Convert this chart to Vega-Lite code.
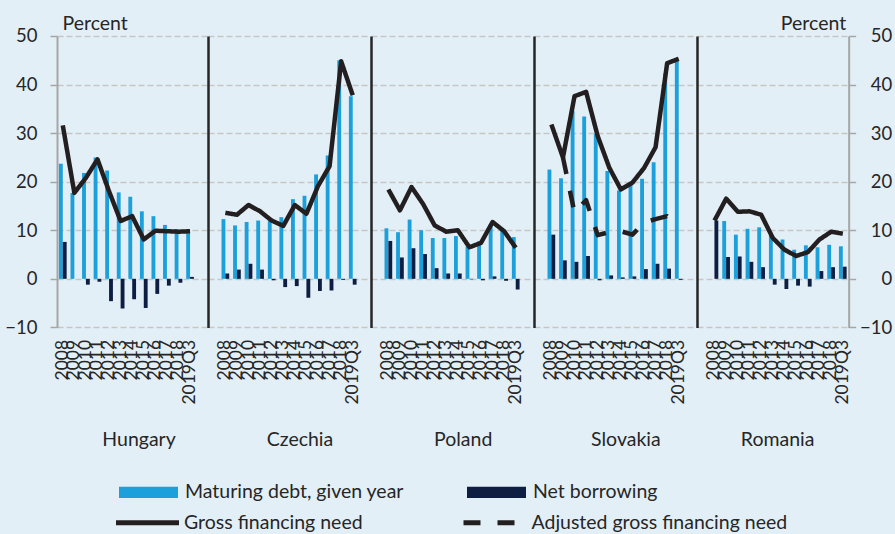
{
  "$schema": "https://vega.github.io/schema/vega-lite/v6.json",
  "padding": {"left": 4, "top": 13, "right": 3, "bottom": 6},
  "spacing": 0,
  "data": {"values": [
    {"country":"Hungary","period":"2008","Maturing debt, given year":23.7,"Net borrowing":7.6,"Gross financing need":31.6},
    {"country":"Hungary","period":"2009","Maturing debt, given year":17.7,"Net borrowing":0.0,"Gross financing need":17.7},
    {"country":"Hungary","period":"2010","Maturing debt, given year":21.8,"Net borrowing":-1.2,"Gross financing need":20.8},
    {"country":"Hungary","period":"2011","Maturing debt, given year":25.0,"Net borrowing":-0.6,"Gross financing need":24.6},
    {"country":"Hungary","period":"2012","Maturing debt, given year":22.3,"Net borrowing":-4.6,"Gross financing need":18.0},
    {"country":"Hungary","period":"2013","Maturing debt, given year":17.8,"Net borrowing":-6.1,"Gross financing need":11.9},
    {"country":"Hungary","period":"2014","Maturing debt, given year":16.9,"Net borrowing":-4.2,"Gross financing need":12.9},
    {"country":"Hungary","period":"2015","Maturing debt, given year":13.9,"Net borrowing":-6.0,"Gross financing need":8.1},
    {"country":"Hungary","period":"2016","Maturing debt, given year":12.9,"Net borrowing":-3.1,"Gross financing need":9.9},
    {"country":"Hungary","period":"2017","Maturing debt, given year":11.1,"Net borrowing":-1.4,"Gross financing need":9.8},
    {"country":"Hungary","period":"2018","Maturing debt, given year":10.2,"Net borrowing":-0.8,"Gross financing need":9.7},
    {"country":"Hungary","period":"2019Q3","Maturing debt, given year":9.7,"Net borrowing":0.4,"Gross financing need":9.8},
    {"country":"Czechia","period":"2008","Maturing debt, given year":12.3,"Net borrowing":1.1,"Gross financing need":13.6},
    {"country":"Czechia","period":"2009","Maturing debt, given year":11.0,"Net borrowing":1.9,"Gross financing need":13.2},
    {"country":"Czechia","period":"2010","Maturing debt, given year":11.7,"Net borrowing":3.1,"Gross financing need":15.2},
    {"country":"Czechia","period":"2011","Maturing debt, given year":12.0,"Net borrowing":1.9,"Gross financing need":13.9},
    {"country":"Czechia","period":"2012","Maturing debt, given year":11.9,"Net borrowing":-0.3,"Gross financing need":12.0},
    {"country":"Czechia","period":"2013","Maturing debt, given year":12.7,"Net borrowing":-1.7,"Gross financing need":10.9},
    {"country":"Czechia","period":"2014","Maturing debt, given year":16.4,"Net borrowing":-1.5,"Gross financing need":15.2},
    {"country":"Czechia","period":"2015","Maturing debt, given year":17.1,"Net borrowing":-3.9,"Gross financing need":13.4},
    {"country":"Czechia","period":"2016","Maturing debt, given year":21.5,"Net borrowing":-2.5,"Gross financing need":19.1},
    {"country":"Czechia","period":"2017","Maturing debt, given year":25.4,"Net borrowing":-2.4,"Gross financing need":23.2},
    {"country":"Czechia","period":"2018","Maturing debt, given year":45.0,"Net borrowing":-0.2,"Gross financing need":44.8},
    {"country":"Czechia","period":"2019Q3","Maturing debt, given year":37.6,"Net borrowing":-1.2,"Gross financing need":37.8},
    {"country":"Poland","period":"2008","Maturing debt, given year":10.4,"Net borrowing":7.8,"Gross financing need":18.4},
    {"country":"Poland","period":"2009","Maturing debt, given year":9.6,"Net borrowing":4.4,"Gross financing need":14.1},
    {"country":"Poland","period":"2010","Maturing debt, given year":12.2,"Net borrowing":6.3,"Gross financing need":18.9},
    {"country":"Poland","period":"2011","Maturing debt, given year":10.0,"Net borrowing":5.1,"Gross financing need":15.4},
    {"country":"Poland","period":"2012","Maturing debt, given year":8.4,"Net borrowing":2.2,"Gross financing need":11.0},
    {"country":"Poland","period":"2013","Maturing debt, given year":8.4,"Net borrowing":1.1,"Gross financing need":9.7},
    {"country":"Poland","period":"2014","Maturing debt, given year":8.8,"Net borrowing":1.1,"Gross financing need":10.0},
    {"country":"Poland","period":"2015","Maturing debt, given year":6.6,"Net borrowing":-0.1,"Gross financing need":6.5},
    {"country":"Poland","period":"2016","Maturing debt, given year":7.7,"Net borrowing":-0.3,"Gross financing need":7.4},
    {"country":"Poland","period":"2017","Maturing debt, given year":11.2,"Net borrowing":0.5,"Gross financing need":11.7},
    {"country":"Poland","period":"2018","Maturing debt, given year":10.2,"Net borrowing":-0.4,"Gross financing need":9.8},
    {"country":"Poland","period":"2019Q3","Maturing debt, given year":8.6,"Net borrowing":-2.2,"Gross financing need":6.4},
    {"country":"Slovakia","period":"2008","Maturing debt, given year":22.5,"Net borrowing":9.1,"Gross financing need":31.8},
    {"country":"Slovakia","period":"2009","Maturing debt, given year":20.7,"Net borrowing":3.8,"Gross financing need":25.0,"Adjusted gross financing need":25.0},
    {"country":"Slovakia","period":"2010","Maturing debt, given year":34.5,"Net borrowing":3.5,"Gross financing need":37.6,"Adjusted gross financing need":13.6},
    {"country":"Slovakia","period":"2011","Maturing debt, given year":33.4,"Net borrowing":4.7,"Gross financing need":38.5,"Adjusted gross financing need":16.2},
    {"country":"Slovakia","period":"2012","Maturing debt, given year":29.8,"Net borrowing":-0.3,"Gross financing need":29.4,"Adjusted gross financing need":9.0},
    {"country":"Slovakia","period":"2013","Maturing debt, given year":22.2,"Net borrowing":0.7,"Gross financing need":22.9,"Adjusted gross financing need":9.6},
    {"country":"Slovakia","period":"2014","Maturing debt, given year":18.2,"Net borrowing":0.3,"Gross financing need":18.4,"Adjusted gross financing need":9.8},
    {"country":"Slovakia","period":"2015","Maturing debt, given year":19.3,"Net borrowing":0.5,"Gross financing need":19.8,"Adjusted gross financing need":9.1},
    {"country":"Slovakia","period":"2016","Maturing debt, given year":20.6,"Net borrowing":2.0,"Gross financing need":22.8,"Adjusted gross financing need":11.6},
    {"country":"Slovakia","period":"2017","Maturing debt, given year":24.0,"Net borrowing":3.1,"Gross financing need":27.1,"Adjusted gross financing need":12.3},
    {"country":"Slovakia","period":"2018","Maturing debt, given year":42.3,"Net borrowing":2.1,"Gross financing need":44.4,"Adjusted gross financing need":12.9},
    {"country":"Slovakia","period":"2019Q3","Maturing debt, given year":44.8,"Net borrowing":-0.2,"Gross financing need":45.3,"Adjusted gross financing need":10.3},
    {"country":"Romania","period":"2008","Net borrowing":12.0,"Gross financing need":12.0},
    {"country":"Romania","period":"2009","Maturing debt, given year":11.9,"Net borrowing":4.5,"Gross financing need":16.5},
    {"country":"Romania","period":"2010","Maturing debt, given year":9.1,"Net borrowing":4.6,"Gross financing need":13.8},
    {"country":"Romania","period":"2011","Maturing debt, given year":10.3,"Net borrowing":3.5,"Gross financing need":13.9},
    {"country":"Romania","period":"2012","Maturing debt, given year":10.6,"Net borrowing":2.4,"Gross financing need":13.2},
    {"country":"Romania","period":"2013","Maturing debt, given year":9.4,"Net borrowing":-1.2,"Gross financing need":8.4},
    {"country":"Romania","period":"2014","Maturing debt, given year":8.1,"Net borrowing":-2.1,"Gross financing need":6.0},
    {"country":"Romania","period":"2015","Maturing debt, given year":6.0,"Net borrowing":-1.4,"Gross financing need":4.7},
    {"country":"Romania","period":"2016","Maturing debt, given year":6.9,"Net borrowing":-1.6,"Gross financing need":5.5},
    {"country":"Romania","period":"2017","Maturing debt, given year":6.5,"Net borrowing":1.6,"Gross financing need":8.1},
    {"country":"Romania","period":"2018","Maturing debt, given year":7.0,"Net borrowing":2.4,"Gross financing need":9.7},
    {"country":"Romania","period":"2019Q3","Maturing debt, given year":6.7,"Net borrowing":2.5,"Gross financing need":9.3}
  ]},
  "hconcat": [
    {
      "width": 150.4, "height": 291.4,
      "transform": [{"filter": {"field": "country", "equal": "Hungary"}}],
      "layer": [
        {
          "transform": [{"fold": ["Maturing debt, given year", "Net borrowing"], "as": ["series", "value"]}],
          "mark": {"type": "bar"},
          "encoding": {
            "x": {"field": "period", "type": "ordinal", "scale": {"domain": ["2008","2009","2010","2011","2012","2013","2014","2015","2016","2017","2018","2019Q3"], "paddingInner": 0, "paddingOuter": 0.5, "align": 0},
                  "axis": {"title": "Hungary", "titleX": 81.5, "titleY": 118, "titleBaseline": "alphabetic", "titleAlign": "center", "titleFontSize": 19.5, "labelAngle": -90, "labelAlign": "right", "labelBaseline": "middle", "labelPadding": 12, "labelOverlap": false, "labelFontSize": 17.5, "domain": false, "ticks": false, "grid": false}},
            "xOffset": {"field": "series", "type": "nominal", "scale": {"domain": ["Maturing debt, given year", "Net borrowing"], "paddingInner": 0, "paddingOuter": 0.5}},
            "y": {"field": "value", "type": "quantitative", "stack": null, "scale": {"domain": [-10, 50], "nice": false, "zero": false},
                  "axis": {"orient": "left", "values": [-10,0,10,20,30,40,50], "domainColor": "#a6a6a6", "domainWidth": 2, "tickColor": "#a6a6a6", "tickSize": 7, "tickWidth": 1.5, "labelPadding": 13, "labelFontSize": 18.5, "labelFlush": false, "grid": true, "title": "Percent", "titleAngle": 0, "titleAlign": "left", "titleBaseline": "alphabetic", "titleX": 5, "titleY": -6.5, "titleFontSize": 19.5}},
            "y2": {"datum": 0},
            "color": {"field": "series", "type": "nominal", "scale": {"domain": ["Maturing debt, given year", "Net borrowing"], "range": ["#1ba0db", "#0d1e42"]},
                      "legend": {"orient": "none", "legendX": 62, "legendY": 426.8, "direction": "horizontal", "columns": 2, "columnPadding": 62, "title": null, "symbolType": "M-1,-0.19H1V0.19H-1Z", "symbolSize": 3481, "symbolStrokeWidth": 0, "labelOffset": 7, "labelLimit": 400, "labelFontSize": 19.5, "padding": 0}}
          }
        },
        {
          "transform": [{"fold": ["Gross financing need", "Adjusted gross financing need"], "as": ["series", "value"]}],
          "mark": {"type": "line", "strokeWidth": 4.5, "color": "#231f20", "strokeJoin": "round"},
          "encoding": {
            "x": {"field": "period", "type": "ordinal"},
            "y": {"field": "value", "type": "quantitative"},
            "strokeDash": {"field": "series", "type": "nominal", "scale": {"domain": ["Gross financing need", "Adjusted gross financing need"], "range": [[1, 0], [17, 17]]},
                           "legend": {"orient": "none", "legendX": 56.5, "legendY": 452.8, "direction": "horizontal", "columns": 2, "columnPadding": 89.5, "title": null, "symbolType": "stroke", "symbolSize": 3969, "symbolStrokeWidth": 5, "symbolStrokeColor": "#231f20", "labelOffset": 2.5, "labelLimit": 400, "labelFontSize": 19.5, "padding": 0}}
          }
        }
      ]
    },
    {
      "width": 162.1, "height": 291.4,
      "transform": [{"filter": {"field": "country", "equal": "Czechia"}}],
      "layer": [
        {
          "transform": [{"fold": ["Maturing debt, given year", "Net borrowing"], "as": ["series", "value"]}],
          "mark": {"type": "bar"},
          "encoding": {
            "x": {"field": "period", "type": "ordinal", "scale": {"domain": ["2008","2009","2010","2011","2012","2013","2014","2015","2016","2017","2018","2019Q3"], "paddingInner": 0, "paddingOuter": 1, "align": 0.5},
                  "axis": {"title": "Czechia", "titleX": 91.5, "titleY": 118, "titleBaseline": "alphabetic", "titleAlign": "center", "titleFontSize": 19.5, "labelAngle": -90, "labelAlign": "right", "labelBaseline": "middle", "labelPadding": 12, "labelOverlap": false, "labelFontSize": 17.5, "domain": false, "ticks": false, "grid": false}},
            "xOffset": {"field": "series", "type": "nominal", "scale": {"domain": ["Maturing debt, given year", "Net borrowing"], "paddingInner": 0, "paddingOuter": 0.5}},
            "y": {"field": "value", "type": "quantitative", "stack": null, "scale": {"domain": [-10, 50], "nice": false, "zero": false},
                  "axis": {"orient": "left", "values": [-10,0,10,20,30,40,50], "domainColor": "#262626", "domainWidth": 2.5, "ticks": false, "labels": false, "grid": true, "title": null}},
            "y2": {"datum": 0},
            "color": {"field": "series", "type": "nominal", "scale": {"domain": ["Maturing debt, given year", "Net borrowing"], "range": ["#1ba0db", "#0d1e42"]}}
          }
        },
        {
          "transform": [{"fold": ["Gross financing need", "Adjusted gross financing need"], "as": ["series", "value"]}],
          "mark": {"type": "line", "strokeWidth": 4.5, "color": "#231f20", "strokeJoin": "round"},
          "encoding": {
            "x": {"field": "period", "type": "ordinal"},
            "y": {"field": "value", "type": "quantitative"},
            "strokeDash": {"field": "series", "type": "nominal", "scale": {"domain": ["Gross financing need", "Adjusted gross financing need"], "range": [[1, 0], [17, 17]]}}
          }
        }
      ]
    },
    {
      "width": 162.1, "height": 291.4,
      "transform": [{"filter": {"field": "country", "equal": "Poland"}}],
      "layer": [
        {
          "transform": [{"fold": ["Maturing debt, given year", "Net borrowing"], "as": ["series", "value"]}],
          "mark": {"type": "bar"},
          "encoding": {
            "x": {"field": "period", "type": "ordinal", "scale": {"domain": ["2008","2009","2010","2011","2012","2013","2014","2015","2016","2017","2018","2019Q3"], "paddingInner": 0, "paddingOuter": 1, "align": 0.5},
                  "axis": {"title": "Poland", "titleX": 91.7, "titleY": 118, "titleBaseline": "alphabetic", "titleAlign": "center", "titleFontSize": 19.5, "labelAngle": -90, "labelAlign": "right", "labelBaseline": "middle", "labelPadding": 12, "labelOverlap": false, "labelFontSize": 17.5, "domain": false, "ticks": false, "grid": false}},
            "xOffset": {"field": "series", "type": "nominal", "scale": {"domain": ["Maturing debt, given year", "Net borrowing"], "paddingInner": 0, "paddingOuter": 0.5}},
            "y": {"field": "value", "type": "quantitative", "stack": null, "scale": {"domain": [-10, 50], "nice": false, "zero": false},
                  "axis": {"orient": "left", "values": [-10,0,10,20,30,40,50], "domainColor": "#262626", "domainWidth": 2.5, "ticks": false, "labels": false, "grid": true, "title": null}},
            "y2": {"datum": 0},
            "color": {"field": "series", "type": "nominal", "scale": {"domain": ["Maturing debt, given year", "Net borrowing"], "range": ["#1ba0db", "#0d1e42"]}}
          }
        },
        {
          "transform": [{"fold": ["Gross financing need", "Adjusted gross financing need"], "as": ["series", "value"]}],
          "mark": {"type": "line", "strokeWidth": 4.5, "color": "#231f20", "strokeJoin": "round"},
          "encoding": {
            "x": {"field": "period", "type": "ordinal"},
            "y": {"field": "value", "type": "quantitative"},
            "strokeDash": {"field": "series", "type": "nominal", "scale": {"domain": ["Gross financing need", "Adjusted gross financing need"], "range": [[1, 0], [17, 17]]}}
          }
        }
      ]
    },
    {
      "width": 162.1, "height": 291.4,
      "transform": [{"filter": {"field": "country", "equal": "Slovakia"}}],
      "layer": [
        {
          "transform": [{"fold": ["Maturing debt, given year", "Net borrowing"], "as": ["series", "value"]}],
          "mark": {"type": "bar"},
          "encoding": {
            "x": {"field": "period", "type": "ordinal", "scale": {"domain": ["2008","2009","2010","2011","2012","2013","2014","2015","2016","2017","2018","2019Q3"], "paddingInner": 0, "paddingOuter": 1, "align": 0.5},
                  "axis": {"title": "Slovakia", "titleX": 91.4, "titleY": 118, "titleBaseline": "alphabetic", "titleAlign": "center", "titleFontSize": 19.5, "labelAngle": -90, "labelAlign": "right", "labelBaseline": "middle", "labelPadding": 12, "labelOverlap": false, "labelFontSize": 17.5, "domain": false, "ticks": false, "grid": false}},
            "xOffset": {"field": "series", "type": "nominal", "scale": {"domain": ["Maturing debt, given year", "Net borrowing"], "paddingInner": 0, "paddingOuter": 0.5}},
            "y": {"field": "value", "type": "quantitative", "stack": null, "scale": {"domain": [-10, 50], "nice": false, "zero": false},
                  "axis": {"orient": "left", "values": [-10,0,10,20,30,40,50], "domainColor": "#262626", "domainWidth": 2.5, "ticks": false, "labels": false, "grid": true, "title": null}},
            "y2": {"datum": 0},
            "color": {"field": "series", "type": "nominal", "scale": {"domain": ["Maturing debt, given year", "Net borrowing"], "range": ["#1ba0db", "#0d1e42"]}}
          }
        },
        {
          "transform": [{"fold": ["Gross financing need", "Adjusted gross financing need"], "as": ["series", "value"]}],
          "mark": {"type": "line", "strokeWidth": 4.5, "color": "#231f20", "strokeJoin": "round"},
          "encoding": {
            "x": {"field": "period", "type": "ordinal"},
            "y": {"field": "value", "type": "quantitative"},
            "strokeDash": {"field": "series", "type": "nominal", "scale": {"domain": ["Gross financing need", "Adjusted gross financing need"], "range": [[1, 0], [17, 17]]}}
          }
        }
      ]
    },
    {
      "width": 151.67, "height": 291.4,
      "transform": [{"filter": {"field": "country", "equal": "Romania"}}],
      "resolve": {"scale": {"y": "independent"}},
      "layer": [
        {
          "transform": [{"fold": ["Maturing debt, given year", "Net borrowing"], "as": ["series", "value"]}],
          "mark": {"type": "bar"},
          "encoding": {
            "x": {"field": "period", "type": "ordinal", "scale": {"domain": ["2008","2009","2010","2011","2012","2013","2014","2015","2016","2017","2018","2019Q3"], "paddingInner": 0, "paddingOuter": 0.5, "align": 1},
                  "axis": {"title": "Romania", "titleX": 80.1, "titleY": 118, "titleBaseline": "alphabetic", "titleAlign": "center", "titleFontSize": 19.5, "labelAngle": -90, "labelAlign": "right", "labelBaseline": "middle", "labelPadding": 12, "labelOverlap": false, "labelFontSize": 17.5, "domain": false, "ticks": false, "grid": false}},
            "xOffset": {"field": "series", "type": "nominal", "scale": {"domain": ["Maturing debt, given year", "Net borrowing"], "paddingInner": 0, "paddingOuter": 0.5}},
            "y": {"field": "value", "type": "quantitative", "stack": null, "scale": {"domain": [-10, 50], "nice": false, "zero": false},
                  "axis": {"orient": "left", "values": [-10,0,10,20,30,40,50], "domainColor": "#262626", "domainWidth": 2.5, "ticks": false, "labels": false, "grid": true, "title": null}},
            "y2": {"datum": 0},
            "color": {"field": "series", "type": "nominal", "scale": {"domain": ["Maturing debt, given year", "Net borrowing"], "range": ["#1ba0db", "#0d1e42"]}}
          }
        },
        {
          "transform": [{"fold": ["Gross financing need", "Adjusted gross financing need"], "as": ["series", "value"]}],
          "mark": {"type": "line", "strokeWidth": 4.5, "color": "#231f20", "strokeJoin": "round"},
          "encoding": {
            "x": {"field": "period", "type": "ordinal"},
            "y": {"field": "value", "type": "quantitative", "scale": {"domain": [-10, 50], "nice": false, "zero": false},
                  "axis": {"orient": "right", "values": [-10,0,10,20,30,40,50], "domainColor": "#a6a6a6", "domainWidth": 2, "tickColor": "#a6a6a6", "tickSize": 7, "tickWidth": 1.5, "labelAlign": "right", "labelPadding": 36, "labelFontSize": 18.5, "labelFlush": false, "grid": false, "title": "Percent", "titleAngle": 0, "titleAlign": "right", "titleBaseline": "alphabetic", "titleX": -3, "titleY": -6.5, "titleFontSize": 19.5}},
            "strokeDash": {"field": "series", "type": "nominal", "scale": {"domain": ["Gross financing need", "Adjusted gross financing need"], "range": [[1, 0], [17, 17]]}}
          }
        }
      ]
    }
  ],
  "config": {
    "background": "#e3eff6",
    "view": {"stroke": null},
    "font": "Lato",
    "axis": {"labelFont": "Lato", "titleFont": "Lato", "labelColor": "#262626", "titleColor": "#262626", "titleFontWeight": "normal", "gridColor": "#c6c6c6", "gridDash": [6, 3], "gridWidth": 1.5},
    "legend": {"labelFont": "Lato", "labelColor": "#262626", "labelFontSize": 19.5}
  }
}
